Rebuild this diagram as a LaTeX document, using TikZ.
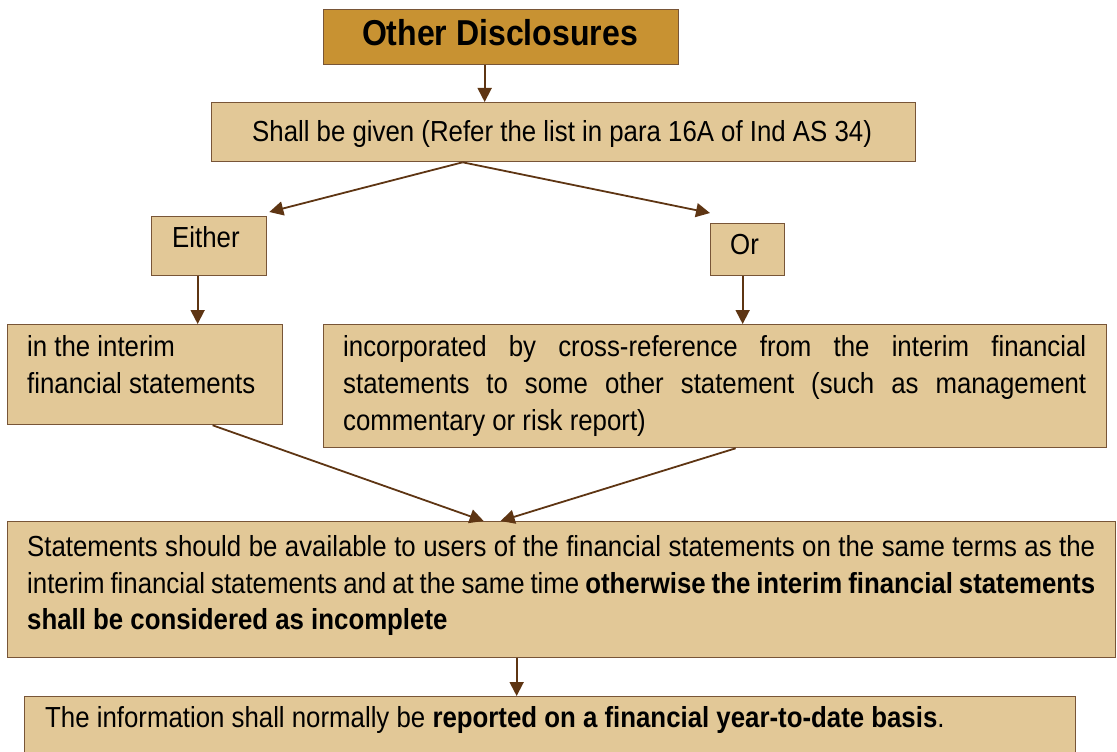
\documentclass[tikz,border=0pt]{standalone}
\usepackage{fontspec}
\setmainfont{Liberation Sans}[FakeStretch=0.89]
\usetikzlibrary{arrows.meta}
\definecolor{boxfill}{RGB}{226,200,151}
\definecolor{titlefill}{RGB}{200,146,50}
\definecolor{boxline}{RGB}{120,85,55}
\definecolor{arrowcol}{RGB}{94,53,19}
\begin{document}
\begin{tikzpicture}[x=1pt,y=-1pt,
  box/.style={draw=boxline,line width=1.3pt,fill=boxfill,rectangle,inner sep=0pt,anchor=north west},
  titlebox/.style={box,fill=titlefill},
  txt/.style={anchor=base west,inner sep=0pt,font=\fontsize{29}{36}\selectfont},
  arr/.style={draw=arrowcol,line width=1.8pt,-{Triangle[length=14pt,width=14pt]}}]
\useasboundingbox (0,0) rectangle (1117,752);
% boxes
\node[titlebox,minimum width=355pt,minimum height=55pt] (title) at (323,9) {};
\node[box,minimum width=704pt,minimum height=59pt] (shall) at (211,102) {};
\node[box,minimum width=115pt,minimum height=59pt] (either) at (151,216) {};
\node[box,minimum width=74pt,minimum height=52pt] (or) at (710,223) {};
\node[box,minimum width=275pt,minimum height=100pt] (interim) at (7,324) {};
\node[box,minimum width=783pt,minimum height=123pt] (incorp) at (323,324) {};
\node[box,minimum width=1108pt,minimum height=136pt] (stmt) at (7,521) {};
\node[box,minimum width=1051pt,minimum height=70pt] (info) at (24,696) {};
% texts
\node[anchor=base,inner sep=0pt,font=\fontsize{36}{40}\selectfont\bfseries] (ttitle) at (500,46) {Other Disclosures};
\node[txt] (tshall) at (252,141) {Shall be given (Refer the list in para 16A of Ind AS 34)};
\node[txt] (teither) at (172,247) {Either};
\node[txt] (tor) at (730,254) {Or};
\node[txt] (tint1) at (27,356) {in the interim};
\node[txt] (tint2) at (27,393) {financial statements};
\node[txt] (tinc1) at (343,356) {\makebox[743pt][s]{incorporated by cross-reference from the interim financial}};
\node[txt] (tinc2) at (343,393) {\makebox[743pt][s]{statements to some other statement (such as management}};
\node[txt] (tinc3) at (343,430) {commentary or risk report)};
\node[txt] (tst1) at (27,556) {\makebox[1068pt][s]{Statements should be available to users of the financial statements on the same terms as the}};
\node[txt] (tst2) at (27,593) {\makebox[1068pt][s]{interim financial statements and at the same time \textbf{otherwise the interim financial statements}}};
\node[txt] (tst3) at (27,629) {\textbf{shall be considered as incomplete}};
\node[txt] (tinfo) at (45,727) {The information shall normally be \textbf{reported on a financial year-to-date basis}.};
% connectors
\draw[arr] ([xshift=-16.5pt]title.south) -- ([xshift=-79pt]shall.north);
\draw[arr] ([xshift=-101pt]shall.south) -- ([shift={(2pt,4pt)}]either.north east);
\draw[arr] ([xshift=-101pt]shall.south) -- ([yshift=10pt]or.north west);
\draw[arr] ([xshift=-11.5pt]either.south) -- ([xshift=52.5pt]interim.north);
\draw[arr] ([xshift=-5pt]or.south) -- ([xshift=27.5pt]incorp.north);
\draw[arr] ([xshift=67.5pt]interim.south) -- ([xshift=-78pt]stmt.north);
\draw[arr] ([xshift=20.5pt]incorp.south) -- ([xshift=-61pt]stmt.north);
\draw[arr] ([xshift=-45pt]stmt.south) -- ([xshift=-33.5pt]info.north);
\end{tikzpicture}
\end{document}
